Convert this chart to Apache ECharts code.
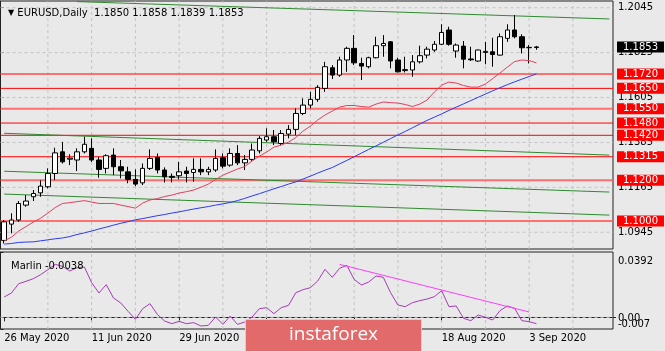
<!DOCTYPE html>
<html><head><meta charset="utf-8">
<script src="https://cdn.jsdelivr.net/npm/echarts@6/dist/echarts.min.js"></script>
<style>html,body{margin:0;padding:0;background:#e9e9e9}#c{width:665px;height:351px}</style>
</head><body><div id="c"></div>
<script>
// ---- data ----
const symbolName = 'EURUSD';
const timeframe = 'Daily';
const dates = ['26 May 2020','27 May 2020','28 May 2020','29 May 2020','1 Jun 2020','2 Jun 2020','3 Jun 2020','4 Jun 2020','5 Jun 2020','8 Jun 2020',
'9 Jun 2020','10 Jun 2020','11 Jun 2020','12 Jun 2020','15 Jun 2020','16 Jun 2020','17 Jun 2020','18 Jun 2020','19 Jun 2020','22 Jun 2020',
'23 Jun 2020','24 Jun 2020','25 Jun 2020','26 Jun 2020','29 Jun 2020','30 Jun 2020','1 Jul 2020','2 Jul 2020','3 Jul 2020','6 Jul 2020',
'7 Jul 2020','8 Jul 2020','9 Jul 2020','10 Jul 2020','13 Jul 2020','14 Jul 2020','15 Jul 2020','16 Jul 2020','17 Jul 2020','20 Jul 2020',
'21 Jul 2020','22 Jul 2020','23 Jul 2020','24 Jul 2020','27 Jul 2020','28 Jul 2020','29 Jul 2020','30 Jul 2020','31 Jul 2020','3 Aug 2020',
'4 Aug 2020','5 Aug 2020','6 Aug 2020','7 Aug 2020','10 Aug 2020','11 Aug 2020','12 Aug 2020','13 Aug 2020','14 Aug 2020','17 Aug 2020',
'18 Aug 2020','19 Aug 2020','20 Aug 2020','21 Aug 2020','24 Aug 2020','25 Aug 2020','26 Aug 2020','27 Aug 2020','28 Aug 2020','31 Aug 2020',
'1 Sep 2020','2 Sep 2020','3 Sep 2020','4 Sep 2020',
'7 Sep 2020','8 Sep 2020','9 Sep 2020','10 Sep 2020','11 Sep 2020','14 Sep 2020','15 Sep 2020','16 Sep 2020','17 Sep 2020','18 Sep 2020'];

const opens  = [1.0905,1.0985,1.1005,1.1078,1.1119,1.1138,1.1168,1.1233,1.1339,1.1303,
1.1299,1.1339,1.1356,1.1299,1.1258,1.1323,1.1266,1.1241,1.1204,1.1187,
1.1258,1.1312,1.1250,1.1219,1.1222,1.1245,1.1238,1.1253,1.1241,1.1250,
1.1310,1.1274,1.1331,1.1285,1.1302,1.1344,1.1397,1.1413,1.1380,1.1426,
1.1449,1.1527,1.1568,1.1596,1.1650,1.1751,1.1715,1.1789,1.1846,1.1772,
1.1756,1.1800,1.1859,1.1878,1.1789,1.1737,1.1740,1.1780,1.1813,1.1838,
1.1866,1.1936,1.1833,1.1857,1.1794,1.1784,1.1826,1.1829,1.1813,1.1895,
1.1936,1.1903,1.1849,1.1850];
const highs  = [1.1005,1.1038,1.1098,1.1127,1.1152,1.1200,1.1258,1.1359,1.1388,1.1327,
1.1356,1.1413,1.1405,1.1315,1.1327,1.1356,1.1299,1.1266,1.1253,1.1282,
1.1351,1.1331,1.1263,1.1233,1.1290,1.1266,1.1307,1.1307,1.1266,1.1351,
1.1331,1.1356,1.1372,1.1323,1.1380,1.1416,1.1454,1.1446,1.1446,1.1470,
1.1552,1.1601,1.1633,1.1666,1.1780,1.1764,1.1805,1.1854,1.1911,1.1800,
1.1805,1.1903,1.1911,1.1882,1.1800,1.1805,1.1813,1.1859,1.1854,1.1882,
1.1964,1.1952,1.1870,1.1882,1.1854,1.1840,1.1878,1.1898,1.1919,1.1964,
1.2009,1.1915,1.1862,1.1858];
const lows   = [1.0890,1.0940,1.0996,1.1070,1.1098,1.1119,1.1160,1.1201,1.1282,1.1274,
1.1245,1.1331,1.1290,1.1212,1.1233,1.1225,1.1209,1.1185,1.1171,1.1176,
1.1250,1.1233,1.1189,1.1189,1.1204,1.1189,1.1193,1.1225,1.1225,1.1241,
1.1258,1.1266,1.1274,1.1250,1.1295,1.1331,1.1388,1.1372,1.1372,1.1405,
1.1421,1.1519,1.1552,1.1584,1.1633,1.1696,1.1707,1.1731,1.1764,1.1691,
1.1748,1.1797,1.1805,1.1748,1.1728,1.1728,1.1707,1.1772,1.1797,1.1829,
1.1862,1.1859,1.1800,1.1748,1.1784,1.1780,1.1768,1.1756,1.1810,1.1878,
1.1895,1.1821,1.1772,1.1839];
const closes = [1.0996,1.1005,1.1086,1.1098,1.1135,1.1171,1.1233,1.1334,1.1290,1.1308,
1.1339,1.1376,1.1299,1.1253,1.1320,1.1266,1.1246,1.1204,1.1181,1.1258,
1.1307,1.1250,1.1217,1.1214,1.1241,1.1233,1.1253,1.1241,1.1253,1.1307,
1.1269,1.1331,1.1285,1.1302,1.1348,1.1405,1.1413,1.1388,1.1429,1.1449,
1.1527,1.1568,1.1596,1.1655,1.1756,1.1715,1.1789,1.1846,1.1775,1.1759,
1.1800,1.1859,1.1870,1.1784,1.1731,1.1742,1.1780,1.1810,1.1842,1.1866,
1.1924,1.1866,1.1862,1.1793,1.1790,1.1838,1.1831,1.1816,1.1903,1.1936,
1.1903,1.1849,1.1851,1.1853];

const maFast = [1.0902,1.0921,1.0951,1.0973,1.0995,1.1014,1.1039,1.1066,1.1086,1.1090,
1.1095,1.1100,1.1093,1.1086,1.1086,1.1086,1.1078,1.1071,1.1063,1.1088,
1.1103,1.1110,1.1120,1.1127,1.1137,1.1144,1.1152,1.1166,1.1181,1.1203,
1.1225,1.1240,1.1255,1.1267,1.1294,1.1318,1.1338,1.1362,1.1372,1.1387,
1.1409,1.1441,1.1465,1.1495,1.1519,1.1539,1.1558,1.1566,1.1566,1.1561,
1.1558,1.1573,1.1583,1.1580,1.1578,1.1571,1.1561,1.1573,1.1593,1.1632,
1.1666,1.1681,1.1676,1.1664,1.1656,1.1656,1.1671,1.1698,1.1725,1.1754,
1.1781,1.1789,1.1786,1.1775];
const maSlow = [1.0887,1.0890,1.0895,1.0897,1.0898,1.0903,1.0908,1.0913,1.0917,1.0924,
1.0934,1.0942,1.0951,1.0961,1.0970,1.0980,1.0989,1.0997,1.1006,1.1012,
1.1019,1.1026,1.1032,1.1039,1.1045,1.1052,1.1059,1.1065,1.1071,1.1078,
1.1084,1.1091,1.1100,1.1111,1.1123,1.1134,1.1146,1.1158,1.1169,1.1181,
1.1192,1.1206,1.1220,1.1235,1.1249,1.1262,1.1280,1.1297,1.1315,1.1333,
1.1351,1.1368,1.1386,1.1404,1.1422,1.1439,1.1457,1.1475,1.1493,1.1509,
1.1525,1.1542,1.1558,1.1574,1.1590,1.1606,1.1622,1.1638,1.1653,1.1668,
1.1682,1.1695,1.1708,1.1721];

const marlin = [0.0122,0.0146,0.0202,0.0216,0.0232,0.0256,0.0286,0.0318,0.0306,0.0278,
0.0298,0.0302,0.0208,0.0146,0.0196,0.0116,0.0086,0.0036,-0.0012,0.0052,
0.0082,0.0018,-0.0022,-0.0038,-0.0024,-0.0038,-0.0032,-0.0052,-0.0048,0.0002,
-0.0042,0.0008,-0.0042,-0.0028,0.0002,0.0052,0.0058,0.0022,0.0058,0.0072,
0.0148,0.0166,0.0178,0.0218,0.0288,0.0240,0.0294,0.0312,0.0228,0.0194,
0.0212,0.0248,0.0240,0.0148,0.0074,0.0064,0.0088,0.0100,0.0110,0.0124,
0.0160,0.0064,0.0068,-0.0006,-0.0020,0.0014,0.0000,-0.0016,0.0040,0.0068,
0.0054,-0.0020,-0.0026,-0.0038];

const priceTicks = [1.0945,1.1165,1.1385,1.1605,1.1825,1.2045];
const levels = [1.1720,1.1650,1.1550,1.1480,1.1420,1.1315,1.1200,1.1000];
const levelKinds = ['soft','hard','soft','hard','hard','hard','soft','soft'];
const channelLines = [
  [[10,1.2075],[83,1.1990]],
  [[0,1.1430],[83,1.1323]],
  [[0,1.1244],[83,1.1142]],
  [[0,1.1132],[83,1.1029]]
];
const marlinTrend = [[46,0.0318],[72,0.0032]];
const marlinEdgeTicks = [0.0392, -0.007];
const marlinEdgeLabels = ['0.0392','-0.007'];
const marlinZeroTick = [0];
const marlinZeroLabel = '0.00';
const labelEvery = 12;
const gridEvery = 6;

// ---- chart ----
const FONT = 'DejaVu Sans';
const n = opens.length;
const candles = opens.map((o,i)=>[o, closes[i], lows[i], highs[i]]);
const last = n-1;
const header = '{tri|▼} ' + symbolName + ',' + timeframe + '  ' +
  [opens[last],highs[last],lows[last],closes[last]].map(v=>v.toFixed(4)).join(' ');

const P_MIN = 1.0863, P_MAX = 1.2078, M_MIN = -0.007, M_MAX = 0.0392;
const dashStyle = {color:'#c2c2c2', type:[3,3], width:1};
const levelStyle = k => k==='soft' ? {color:'#ff5a5a', width:2, opacity:0.85} : {color:'#ff0000', width:1};
const tagLabel = (txt, bg) => ({show:true, distance:4, formatter:txt, color:'#fff', backgroundColor:bg, padding:[1,6,0,6], fontSize:10, fontFamily:FONT});

const series = [];
priceTicks.forEach(v => series.push({type:'line', xAxisIndex:2, yAxisIndex:0, data:[[0,v],[1,v]], symbol:'none', silent:true, z:1, lineStyle:dashStyle}));
series.push({type:'line', xAxisIndex:3, yAxisIndex:1, data:[[0,0],[1,0]], symbol:'none', silent:true, z:1, lineStyle:dashStyle});
for (let i = gridEvery; i < dates.length; i += gridEvery) {
  series.push({type:'line', xAxisIndex:0, yAxisIndex:0, data:[[i,P_MIN],[i,P_MAX]], symbol:'none', silent:true, z:1, lineStyle:dashStyle});
  series.push({type:'line', xAxisIndex:1, yAxisIndex:1, data:[[i,M_MIN],[i,M_MAX]], symbol:'none', silent:true, z:1, lineStyle:dashStyle});
}
levels.forEach((v,i) => series.push({type:'line', xAxisIndex:2, yAxisIndex:0, data:[[0,v],[1,v]], symbol:'none', silent:true, z:2,
  lineStyle:levelStyle(levelKinds[i]), endLabel:tagLabel(v.toFixed(4), '#ff0000')}));
channelLines.forEach(seg => series.push({type:'line', xAxisIndex:0, yAxisIndex:0, data:seg, symbol:'none', silent:true,
  z:2, lineStyle:{color:'#2f8a2f', width:1}}));
series.push({ type:'candlestick', xAxisIndex:0, yAxisIndex:0, data:candles, barWidth:5, z:3,
  itemStyle:{color:'#ffffff', color0:'#000000', borderColor:'#000000', borderColor0:'#000000', borderWidth:1}});
series.push({type:'line', xAxisIndex:2, yAxisIndex:0, data:[[0,closes[last]],[1,closes[last]]], symbol:'none', silent:true, z:5,
  lineStyle:{opacity:0}, endLabel:tagLabel(closes[last].toFixed(4), '#000000')});
series.push({type:'line', xAxisIndex:0, yAxisIndex:0, data:maFast, symbol:'none', silent:true, z:4, lineStyle:{color:'#e23f5c', width:1}});
series.push({type:'line', xAxisIndex:0, yAxisIndex:0, data:maSlow, symbol:'none', silent:true, z:4, lineStyle:{color:'#2a3cf2', width:1}});
series.push({type:'line', xAxisIndex:1, yAxisIndex:1, data:marlin, symbol:'none', silent:true, z:3, lineStyle:{color:'#a43cb4', width:1}});
series.push({type:'line', xAxisIndex:1, yAxisIndex:1, data:marlinTrend, symbol:'none', silent:true, z:3, lineStyle:{color:'#ff3cff', width:1}});

const labelFilter = i => i % labelEvery === 0;
const hiddenVal = g => ({type:'value', gridIndex:g, min:0, max:1, show:false, splitLine:{show:false}});
const axFont = {fontSize:10, fontFamily:FONT, color:'#000'};

const option = {
  animation:false,
  backgroundColor:'#e9e9e9',
  title:[
    {text: header, left:3, top:3, textStyle:{fontSize:10, fontFamily:FONT, fontWeight:'normal', color:'#000',
      rich:{tri:{fontSize:8, fontFamily:FONT, color:'#000'}}}},
    {text: 'Marlin ' + marlin[last].toFixed(4), left:6, top:256, textStyle:{fontSize:10, fontFamily:FONT, fontWeight:'normal', color:'#000'}}
  ],
  grid:[
    {left:0.5, top:1, width:612.5, height:248, show:true, borderColor:'#222', borderWidth:1, backgroundColor:'transparent'},
    {left:0.5, top:252, width:612.5, height:77, show:true, borderColor:'#222', borderWidth:1, backgroundColor:'transparent'}
  ],
  xAxis:[
    {type:'category', gridIndex:0, data:dates, boundaryGap:true, axisLine:{show:false}, axisTick:{show:false}, axisLabel:{show:false}, splitLine:{show:false}},
    {type:'category', gridIndex:1, data:dates, boundaryGap:true,
      axisLine:{show:true, lineStyle:{color:'#222'}},
      axisTick:{show:true, alignWithLabel:true, interval:labelFilter, length:4, lineStyle:{color:'#222'}},
      axisLabel:Object.assign({show:true, interval:labelFilter, align:'left', margin:4}, axFont),
      splitLine:{show:false}},
    hiddenVal(0), hiddenVal(1)
  ],
  yAxis:[
    {type:'value', gridIndex:0, position:'right', min:P_MIN, max:P_MAX,
      axisLine:{show:true, lineStyle:{color:'#222'}},
      axisTick:{show:true, customValues:priceTicks, length:3, lineStyle:{color:'#222'}},
      axisLabel:Object.assign({show:true, customValues:priceTicks, hideOverlap:false, formatter:v=>v.toFixed(4), margin:5}, axFont),
      splitLine:{show:false}},
    {type:'value', gridIndex:1, position:'right', min:M_MIN, max:M_MAX,
      axisLine:{show:true, lineStyle:{color:'#222'}},
      axisTick:{show:true, customValues:marlinEdgeTicks, length:3, lineStyle:{color:'#222'}},
      axisLabel:Object.assign({show:true, customValues:marlinEdgeTicks, hideOverlap:false, margin:5,
        formatter:v=>{const k = v > 0.01 ? 0 : 1; return '{'+(k===0?'t':'b')+'|'+marlinEdgeLabels[k]+'}';},
        rich:{t:{padding:[18,0,0,0], fontSize:10, fontFamily:FONT}, b:{padding:[0,0,10,0], fontSize:10, fontFamily:FONT}}}, axFont),
      splitLine:{show:false}},
    {type:'value', gridIndex:1, position:'right', min:M_MIN, max:M_MAX,
      axisLine:{show:false},
      axisTick:{show:true, customValues:marlinZeroTick, length:3, lineStyle:{color:'#222'}},
      axisLabel:Object.assign({show:true, customValues:marlinZeroTick, margin:5, formatter:()=>'{z|'+marlinZeroLabel+'}',
        rich:{z:{padding:[3,0,0,0], fontSize:10, fontFamily:FONT}}}, axFont),
      splitLine:{show:false}}
  ],
  graphic:[
    {type:'rect', left:245, top:319, z:100, zlevel:1, shape:{width:176,height:34}, style:{fill:'#e26a6a', stroke:'#f4c4c4', lineWidth:1}},
    {type:'text', left:289, top:325, z:101, zlevel:1, style:{text:'instaforex', fill:'#ffffff', font:'19px "Open Sans"'}}
  ],
  series: series
};
const chart = echarts.init(document.getElementById('c'), null, {renderer:'canvas'});
chart.setOption(option);
</script></body></html>
